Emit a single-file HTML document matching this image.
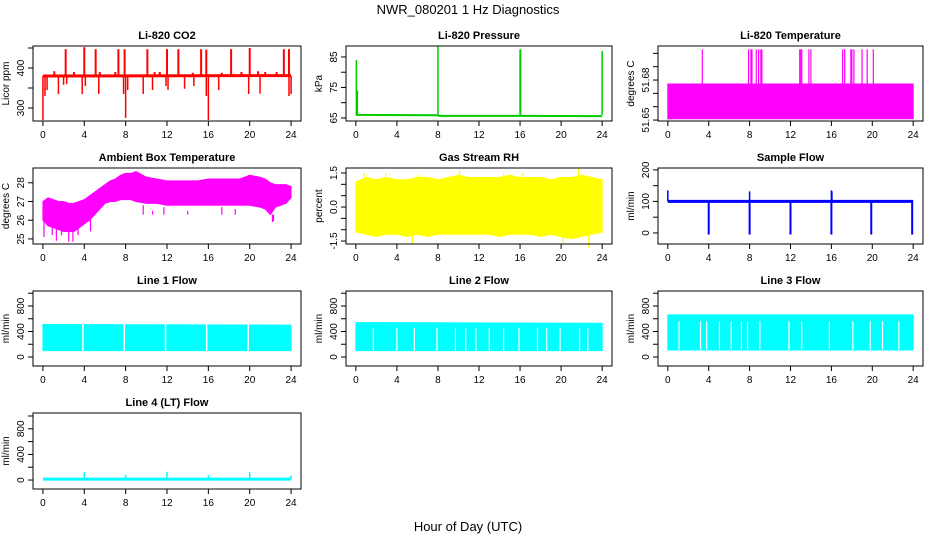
<!DOCTYPE html>
<html><head><meta charset="utf-8"><style>
html,body{margin:0;padding:0;background:#fff}
svg{display:block}
text{font-family:"Liberation Sans",sans-serif;fill:#000}
</style></head><body>
<svg id="c" width="936" height="540" xmlns="http://www.w3.org/2000/svg">
<text x="468" y="14" font-size="13" text-anchor="middle">NWR_080201  1 Hz Diagnostics</text>
<text x="468" y="531" font-size="13" text-anchor="middle">Hour of Day (UTC)</text>
</svg>
<script>
// ---- data ----
const xTicks=[0,4,8,12,16,20,24];
const co2Base=[380,381];
const co2UpH=[2.2,4.0,5.1,7.3,7.9,10.1,12.0,13.1,15.3,15.8,18.2,20.0,23.3,23.8];
const co2UpV=[447,452,447,447,447,447,447,447,447,446,447,450,447,447];
const co2SmallH=[1.1,3.0,5.5,7.0,10.8,11.3,14.5,17.3,19.2,20.8,21.5,22.6];
const co2SmallV=[392,390,390,390,390,390,388,388,390,392,390,390];
const co2DnH=[0.0,0.2,0.4,1.5,2.0,2.3,3.8,4.1,5.4,7.8,8.0,8.2,9.7,10.6,11.9,12.1,13.7,14.6,15.8,16.0,17.0,19.9,21.0,23.8,24.0];
const co2DnV=[270,330,345,335,358,360,335,355,335,335,275,345,335,345,355,345,348,355,330,270,345,335,336,330,335];
const presH=[0,0.05,8,8.1,16,16.05,23.95,24];
const presBase=[66.0,66.0,65.9,65.7,65.7,65.7,65.6,65.6];
const presSpH=[0.05,0.15,8.0,16.0,16.05,24.0];
const presSpV=[84,74,88.5,87.5,87.5,87];
const tempLow=[51.651,51.651];
const tempHigh=[51.677,51.677];
const tempSpH=[3.37,7.9,8.13,8.23,8.65,8.88,9.1,9.2,12.9,13.0,13.1,13.8,14.0,17.1,17.3,17.9,18.0,18.2,19.0,19.5,20.1];
const ambH=[0,0.5,1,1.5,2,2.5,3,3.5,4,4.5,5,5.5,6,6.5,7,7.5,8,8.5,9,10,11,12,13,14,15,16,17,18,19,20,21,21.5,22,22.5,23,23.5,24];
const ambLo=[26.0,25.7,25.6,25.5,25.4,25.4,25.4,25.6,25.8,26.0,26.3,26.6,26.9,27.0,27.0,27.1,27.1,27.1,27.0,26.9,26.9,26.8,26.8,26.8,26.8,26.8,26.8,26.8,26.8,26.8,26.7,26.6,26.3,26.7,26.8,26.9,27.2];
const ambHi=[27.0,27.2,27.1,27.0,27.0,26.9,26.9,27.0,27.1,27.3,27.5,27.7,27.9,28.1,28.2,28.4,28.5,28.5,28.6,28.3,28.2,28.1,28.1,28.1,28.1,28.2,28.2,28.2,28.2,28.4,28.3,28.2,28.0,27.9,27.9,27.9,27.8];
const ambSpH=[0.1,0.9,1.3,1.8,2.5,2.9,3.4,4.6,9.7,10.6,11.7,14.0,17.3,18.6,22.2,22.3];
const ambSpV=[25.1,25.2,24.9,25.2,24.85,24.85,25.2,25.4,26.8,26.5,26.7,26.5,26.7,26.6,25.9,25.95];
const rhH=[0,1,2,3,4,5,6,7,8,9,10,11,12,13,14,15,16,17,18,19,20,21,22,23,24];
const rhLo=[-1.1,-1.2,-1.3,-1.2,-1.2,-1.3,-1.2,-1.3,-1.2,-1.2,-1.2,-1.2,-1.2,-1.2,-1.3,-1.2,-1.2,-1.2,-1.3,-1.2,-1.3,-1.4,-1.3,-1.2,-1.1];
const rhHi=[1.1,1.3,1.2,1.3,1.2,1.2,1.3,1.3,1.2,1.3,1.4,1.3,1.3,1.3,1.3,1.4,1.3,1.3,1.3,1.2,1.3,1.3,1.4,1.3,1.2];
const rhSpH=[0.8,2.9,5.5,10.1,14.4,16.3,21.7,22.7,6.1,20.2];
const rhSpV=[1.5,1.5,-1.6,1.6,1.5,1.5,1.7,-1.8,1.4,-1.6];
const sfBase=[100,100];
const sfDnH=[4.0,8.0,12.0,16.0,19.9,23.9];
const sfDnV=[-5,-5,-5,-5,-5,-5];
const sfUpH=[0.0,8.0,16.0,16.05];
const sfUpV=[135,132,135,132];
const l1Lo=[100,100], l1Hi=[510,500];
const l1GapH=[3.86,7.87,11.86,15.84,19.85];
const l2Lo=[100,100], l2Hi=[540,530];
const l2GapH=[1.7,4.0,5.7,7.9,9.7,10.7,11.7,13.0,14.4,15.9,17.7,18.6,19.9,21.8,22.6];
const l3Lo=[110,110], l3Hi=[660,660];
const l3GapH=[1.1,3.2,3.8,5.05,6.2,7.2,7.8,9.0,11.85,13.1,15.8,18.1,19.8,21.0,22.6];
const l4Base=[15,15];
const l4SpH=[4.0,8.0,12.0,16.0,20.0,24.0];
const l4SpV=[130,80,130,75,130,70];

// ---- helpers ----
const NS='http://www.w3.org/2000/svg';
const svg=document.getElementById('c');
function mk(tag,attrs,parent){const e=document.createElementNS(NS,tag);for(const k in attrs)e.setAttribute(k,attrs[k]);(parent||svg).appendChild(e);return e;}
function panel(name,L,R,T,B,ymin,ymax,yticks,ylabels,title,ytitle){
  const g=mk('g',{});
  
  
  const p={L,R,T,B,g,
    x:h=>L+(h+0.96)/25.92*(R-L),
    y:v=>B-(v-ymin)/(ymax-ymin)*(B-T)};
  p.plot=mk('g',{},g);
  
  
  const t=mk('text',{x:(L+R)/2,y:T-7,'font-size':11,'font-weight':'bold','text-anchor':'middle'},g);
  t.textContent=title;
  
  
  mk('rect',{x:L,y:T,width:R-L,height:B-T,fill:'none',stroke:'#000','stroke-width':1},g);
  const ax=mk('g',{stroke:'#000','stroke-width':1},g);
  
  
  mk('line',{x1:p.x(xTicks[0]),x2:p.x(xTicks[xTicks.length-1]),y1:B,y2:B},ax);
  xTicks.forEach(h=>{
    mk('line',{x1:p.x(h),x2:p.x(h),y1:B,y2:B+5},ax);
    const tx=mk('text',{x:p.x(h),y:B+17,'font-size':10,'text-anchor':'middle',stroke:'none'},ax);
    tx.textContent=h;
    
    
  });
  const ay=mk('g',{stroke:'#000','stroke-width':1},g);
  
  
  mk('line',{x1:L,x2:L,y1:p.y(yticks[0]),y2:p.y(yticks[yticks.length-1])},ay);
  yticks.forEach((v,i)=>{
    mk('line',{x1:L-5,x2:L,y1:p.y(v),y2:p.y(v)},ay);
    if(ylabels[i]!==''){
      const yy=p.y(v);
      const tx=mk('text',{x:L-9,y:yy,'font-size':10,'text-anchor':'middle',stroke:'none',transform:`rotate(-90 ${L-9} ${yy})`},ay);
      tx.textContent=ylabels[i];
      
      
    }
  });
  const cy=(T+B)/2;
  const yt=mk('text',{x:L-24,y:cy,'font-size':10,'text-anchor':'middle',transform:`rotate(-90 ${L-24} ${cy})`},g);
  yt.textContent=ytitle;
  
  
  return p;
}
function band(p,hs,lo,hi,col){
  let pts=hs.map((h,i)=>p.x(h)+','+p.y(hi[i]));
  pts=pts.concat(hs.map((h,i)=>p.x(h)+','+p.y(lo[i])).reverse());
  mk('polygon',{points:pts.join(' '),fill:col,stroke:col,'stroke-width':1},p.plot);
}
function line(p,hs,vs,col,w){
  mk('polyline',{points:hs.map((h,i)=>p.x(h)+','+p.y(vs[i])).join(' '),fill:'none',stroke:col,'stroke-width':w},p.plot);
}
function spikes(p,hs,vs,base,col,w){
  hs.forEach((h,i)=>mk('line',{x1:p.x(h),x2:p.x(h),y1:p.y(Array.isArray(base)?base[i]:base),y2:p.y(vs[i]),stroke:col,'stroke-width':w},p.plot));
}
const C=[[33,301],[346,612],[658,923]];
const Rw=[[46,121],[168,244],[291,366],[413,489]];
const full=[0,24];

// Row 1
let p=panel('co2',C[0][0],C[0][1],Rw[0][0],Rw[0][1],267.5,455,[300,350,400,450],['300','','400',''],'Li-820 CO2','Licor ppm');
line(p,full,co2Base,'#ff0000',3);
spikes(p,co2UpH,co2UpV,380,'#ff0000',2);
spikes(p,co2SmallH,co2SmallV,380,'#ff0000',2);
spikes(p,co2DnH,co2DnV,380,'#ff0000',1.5);

p=panel('pressure',C[1][0],C[1][1],Rw[0][0],Rw[0][1],64,88.6,[65,70,75,80,85],['65','','75','','85'],'Li-820 Pressure','kPa');
line(p,presH,presBase,'#00cc00',2);
spikes(p,presSpH,presSpV,66,'#00cc00',1.5);

p=panel('temperature',C[2][0],C[2][1],Rw[0][0],Rw[0][1],51.6493,51.7055,[51.65,51.66,51.67,51.68,51.69,51.70],['51.65','','','51.68','',''],'Li-820 Temperature','degrees C');
band(p,full,tempLow,tempHigh,'#ff00ff');
spikes(p,tempSpH,tempSpH.map(()=>51.703),51.677,'#ff00ff',1.2);

// Row 2
p=panel('ambient-temp',C[0][0],C[0][1],Rw[1][0],Rw[1][1],24.73,28.79,[25,26,27,28],['25','26','27','28'],'Ambient Box Temperature','degrees C');
band(p,ambH,ambLo,ambHi,'#ff00ff');
spikes(p,ambSpH,ambSpV,26.3,'#ff00ff',1.2);

p=panel('gas-rh',C[1][0],C[1][1],Rw[1][0],Rw[1][1],-1.63,1.72,[-1.5,-1,-0.5,0,0.5,1,1.5],['-1.5','','','0.0','','','1.5'],'Gas Stream RH','percent');
band(p,rhH,rhLo,rhHi,'#ffff00');
spikes(p,rhSpH,rhSpV,0,'#ffff00',1.2);

p=panel('sample-flow',C[2][0],C[2][1],Rw[1][0],Rw[1][1],-35,206,[0,50,100,150,200],['0','','100','','200'],'Sample Flow','ml/min');
line(p,full,sfBase,'#0000ff',3);
spikes(p,sfDnH,sfDnV,100,'#0000ff',2);
spikes(p,sfUpH,sfUpV,100,'#0000ff',1.5);

// Row 3
const fT=[0,200,400,600,800,1000], fL=['0','','400','','800',''];
p=panel('line1-flow',C[0][0],C[0][1],Rw[2][0],Rw[2][1],-141,1035,fT,fL,'Line 1 Flow','ml/min');
band(p,full,l1Lo,l1Hi,'#00ffff');
spikes(p,l1GapH,l1GapH.map(()=>520),90,'#ffffff',1.5);

p=panel('line2-flow',C[1][0],C[1][1],Rw[2][0],Rw[2][1],-141,1035,fT,fL,'Line 2 Flow','ml/min');
band(p,full,l2Lo,l2Hi,'#00ffff');
spikes(p,l2GapH,l2GapH.map(()=>450),95,'#ffffff',1.2);

p=panel('line3-flow',C[2][0],C[2][1],Rw[2][0],Rw[2][1],-141,1035,fT,fL,'Line 3 Flow','ml/min');
band(p,full,l3Lo,l3Hi,'#00ffff');
spikes(p,l3GapH,l3GapH.map(()=>560),115,'#ffffff',1.2);

// Row 4
p=panel('line4-flow',C[0][0],C[0][1],Rw[3][0],Rw[3][1],-140,1047,fT,fL,'Line 4 (LT) Flow','ml/min');
line(p,full,l4Base,'#00ffff',3);
spikes(p,l4SpH,l4SpV,15,'#00ffff',1.5);
</script>
</body></html>
